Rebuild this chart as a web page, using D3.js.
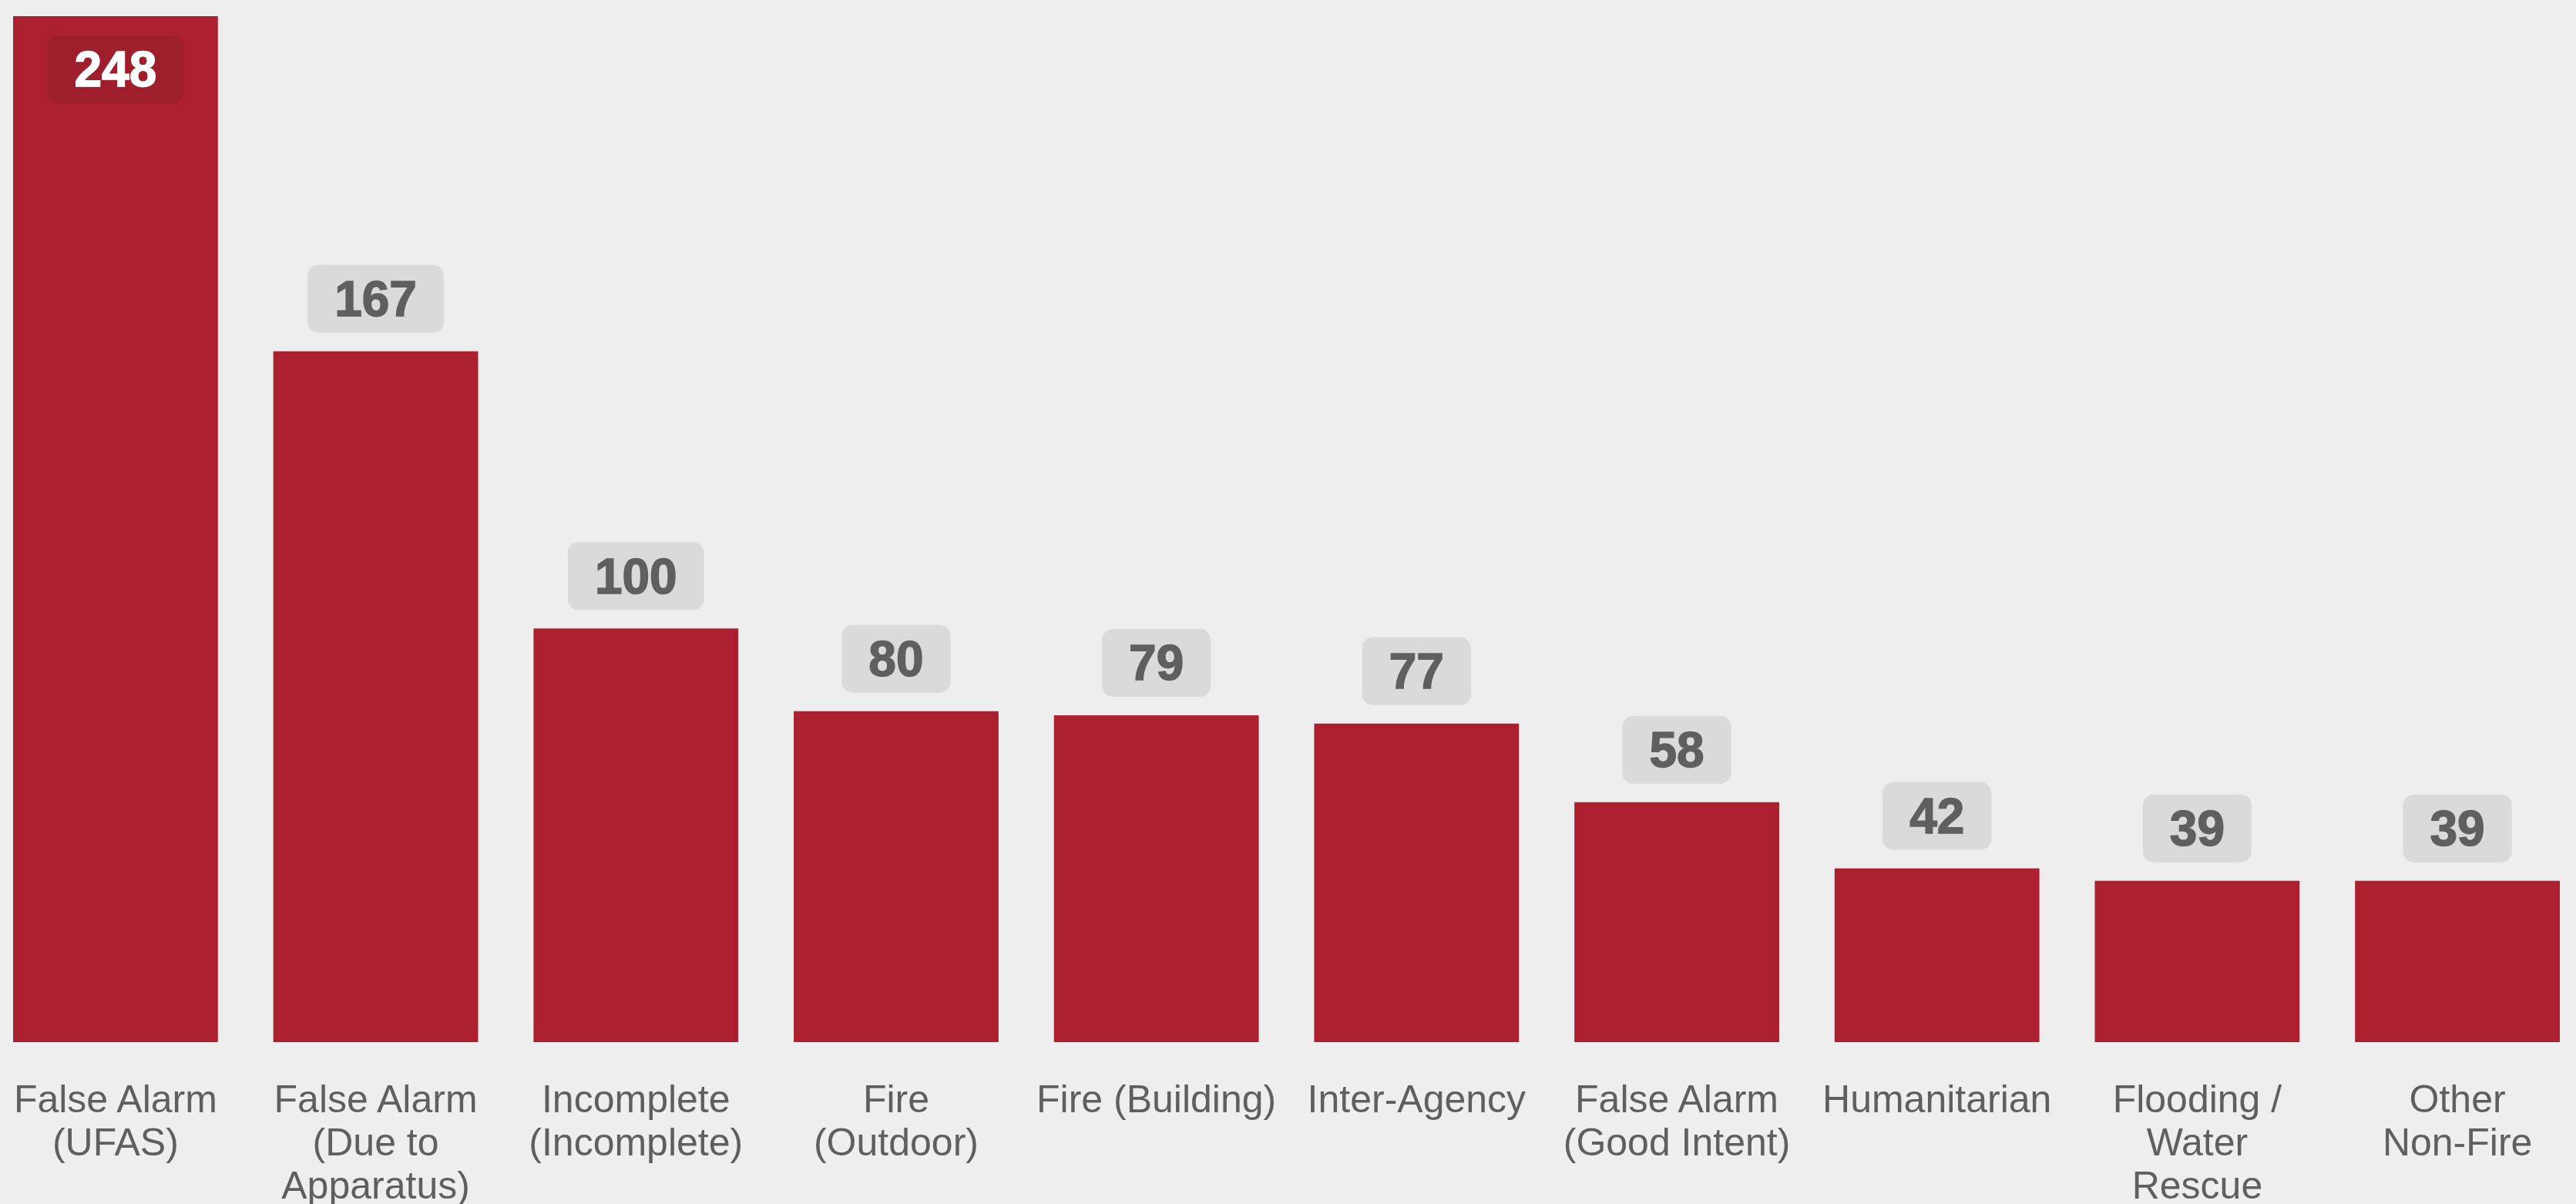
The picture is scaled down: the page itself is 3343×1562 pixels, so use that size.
<!DOCTYPE html>
<html>
<head>
<meta charset="utf-8">
<script src="https://cdn.jsdelivr.net/npm/d3@7"></script>
<style>
  html, body { margin: 0; padding: 0; background: #eeeeee; }
  svg { display: block; }
</style>
</head>
<body>
<svg></svg>
<script>
var viewWidth = 3343;
var viewHeight = 1562;

// data
var categories = [
    "False Alarm\n(UFAS)",
    "False Alarm\n(Due to\nApparatus)",
    "Incomplete\n(Incomplete)",
    "Fire\n(Outdoor)",
    "Fire (Building)",
    "Inter-Agency",
    "False Alarm\n(Good Intent)",
    "Humanitarian",
    "Flooding /\nWater\nRescue",
    "Other\nNon-Fire"
];
var counts = [248, 167, 100, 80, 79, 77, 58, 42, 39, 39];

var data = categories.map(function(c, i) { return {name: c, value: counts[i]}; });

var svg = d3.select("svg")
    .attr("width", viewWidth)
    .attr("height", viewHeight);

svg.append("rect")
    .attr("width", viewWidth)
    .attr("height", viewHeight)
    .attr("fill", "#eeeeee");

var x = d3.scaleBand()
    .domain(categories)
    .range([17, 3322])
    .paddingInner(0.213)
    .paddingOuter(0);

var y = d3.scaleLinear()
    .domain([0, d3.max(counts)])
    .range([1352, 21]);

svg.selectAll(".bar")
    .data(data)
    .enter().append("rect")
    .attr("class", "bar")
    .attr("x", function(d) { return x(d.name); })
    .attr("y", function(d) { return y(d.value); })
    .attr("width", x.bandwidth())
    .attr("height", function(d) { return y(0) - y(d.value); })
    .attr("fill", "#ac1f2e");

// value badges
var fontSize = 64;
var boxH = 88;
var gap = 24;

data.forEach(function(d) {
    var cx = x(d.name) + x.bandwidth() / 2;
    var top = y(d.value);
    var inside = top - gap - boxH < 0;
    var boxTop = inside ? top + 25 : top - gap - boxH;
    var col = inside ? "#ffffff" : "#5f5f5f";

    var g = svg.append("g");
    var t = g.append("text")
        .attr("x", cx)
        .attr("y", boxTop + boxH / 2 + fontSize * 0.35)
        .attr("text-anchor", "middle")
        .style("font-family", "Arial, 'Liberation Sans', sans-serif")
        .style("font-weight", "bold")
        .style("font-size", fontSize + "px")
        .style("fill", col)
        .style("stroke", col)
        .style("stroke-width", 1.5)
        .text(d.value);

    var tw = t.node().getComputedTextLength();
    var boxW = tw + 70;
    g.insert("rect", "text")
        .attr("x", cx - boxW / 2)
        .attr("y", boxTop)
        .attr("width", boxW)
        .attr("height", boxH)
        .attr("rx", 14)
        .attr("fill", inside ? "#9e1f2b" : "#dadada");
});

// category labels
svg.selectAll(".cat")
    .data(data)
    .enter().append("text")
    .attr("class", "cat")
    .attr("text-anchor", "middle")
    .style("font-family", "Arial, 'Liberation Sans', sans-serif")
    .style("font-size", "50px")
    .style("fill", "#5f5f5f")
    .each(function(d) {
        var lines = d.name.split("\n");
        var el = d3.select(this);
        lines.forEach(function(line, i) {
            el.append("tspan")
                .attr("x", x(d.name) + x.bandwidth() / 2)
                .attr("y", y(0) + 91 + i * 56)
                .text(line);
        });
    });
</script>
</body>
</html>
